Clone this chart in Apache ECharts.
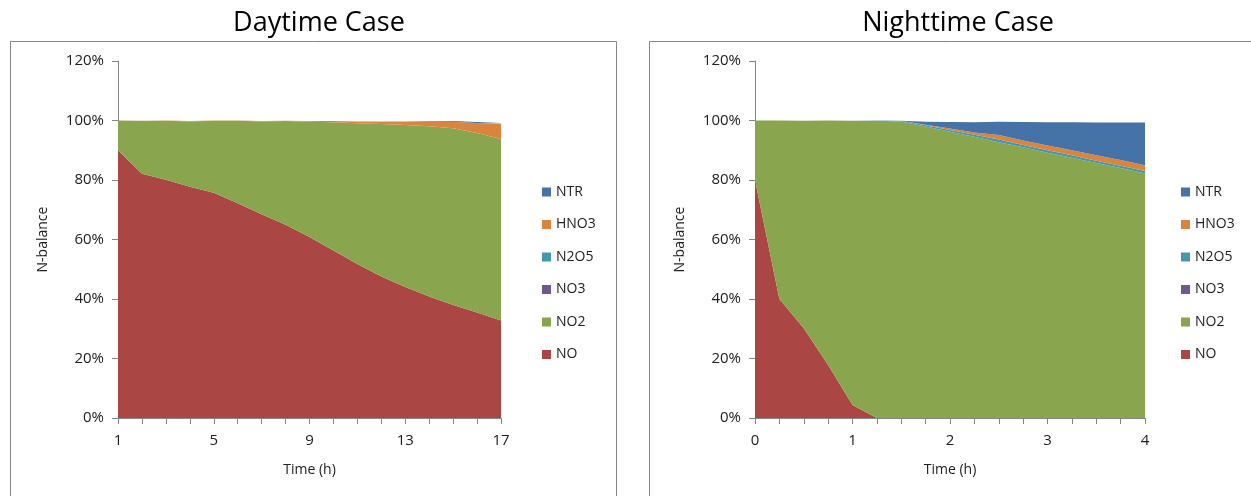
<!DOCTYPE html>
<html><head><meta charset="utf-8">
<script src="https://cdn.jsdelivr.net/npm/echarts@6/dist/echarts.min.js"></script>
<style>html,body{margin:0;padding:0;background:#fff}#c{width:1251px;height:496px}</style>
</head><body><div id="c"></div>
<script>
// ---- Data ----
const seriesNames = ['NO','NO2','NO3','N2O5','HNO3','NTR'];
const legendOrder = ['NTR','HNO3','N2O5','NO3','NO2','NO'];
const colors = {NO:'#AA4643',NO2:'#89A54E',NO3:'#71588F',N2O5:'#4198AF',HNO3:'#DB843D',NTR:'#4572A7'};

// Daytime (h 1..17)
const dayTime = ['1','2','3','4','5','6','7','8','9','10','11','12','13','14','15','16','17'];
const dayNO   = [0.900,0.821,0.801,0.777,0.757,0.722,0.685,0.650,0.608,0.563,0.518,0.476,0.440,0.408,0.380,0.355,0.328];
const dayNO2  = [0.100,0.177,0.198,0.220,0.242,0.277,0.312,0.348,0.388,0.431,0.473,0.512,0.545,0.573,0.594,0.603,0.610];
const dayNO3  = [0,0,0,0,0,0,0,0,0,0,0,0,0,0,0,0,0];
const dayN2O5 = [0,0,0,0,0,0,0,0,0,0,0,0,0,0,0,0,0];
const dayHNO3 = [0,0.001,0.001,0.001,0.001,0.001,0.001,0.001,0.002,0.004,0.006,0.009,0.012,0.016,0.022,0.034,0.052];
const dayNTR  = [0,0,0,0,0,0,0,0,0,0,0,0,0,0.001,0.002,0.003,0.004];

// Nighttime (h 0..4, step 0.25)
const nightTime = ['0','0.25','0.5','0.75','1','1.25','1.5','1.75','2','2.25','2.5','2.75','3','3.25','3.5','3.75','4'];
const nightNO   = [0.800,0.400,0.302,0.178,0.044,0,0,0,0,0,0,0,0,0,0,0,0];
const nightNO2  = [0.200,0.600,0.697,0.822,0.955,0.999,0.997,0.980,0.962,0.945,0.927,0.910,0.892,0.875,0.857,0.840,0.822];
const nightNO3  = [0,0,0,0,0,0,0,0,0,0,0,0,0,0,0,0,0];
const nightN2O5 = [0,0,0,0,0,0.001,0.002,0.004,0.006,0.007,0.009,0.008,0.008,0.008,0.008,0.008,0.008];
const nightHNO3 = [0,0,0,0,0,0,0,0.002,0.005,0.008,0.015,0.015,0.016,0.017,0.018,0.019,0.020];
const nightNTR  = [0,0,0,0,0,0,0,0.010,0.022,0.034,0.045,0.062,0.078,0.094,0.110,0.126,0.143];

const yTicks = ['0%','20%','40%','60%','80%','100%','120%'];

const dayData = {NO:dayNO,NO2:dayNO2,NO3:dayNO3,N2O5:dayN2O5,HNO3:dayHNO3,NTR:dayNTR};
const nightData = {NO:nightNO,NO2:nightNO2,NO3:nightNO3,N2O5:nightN2O5,HNO3:nightHNO3,NTR:nightNTR};

const font = 'Open Sans, Noto Sans, sans-serif';
const axisColor = '#868686';

function mkSeries(idx, data, stack){
  return seriesNames.map(n => ({
    name:n, type:'line', xAxisIndex:idx, yAxisIndex:idx, stack:stack,
    symbol:'none', smooth:false, lineStyle:{width:0}, color:colors[n],
    areaStyle:{color:colors[n], opacity:1},
    data: data[n]
  }));
}

function xAxis(idx, cats){
  return {type:'category', gridIndex:idx, data:cats, boundaryGap:false,
    name:'Time (h)', nameLocation:'middle', nameGap:45,
    nameTextStyle:{fontFamily:font, fontSize:14, color:'#222'},
    axisLine:{lineStyle:{color:axisColor}},
    axisTick:{show:true, length:6, interval:0, lineStyle:{color:axisColor}},
    splitLine:{show:false},
    axisLabel:{fontFamily:font, fontSize:15, color:'#222', margin:15, interval:3}};
}
function yAxis(idx){
  return {type:'value', gridIndex:idx, min:0, max:1.2, interval:0.2,
    name:'N-balance', nameLocation:'middle', nameGap:68, nameRotate:90,
    nameTextStyle:{fontFamily:font, fontSize:14, color:'#222'},
    axisLine:{show:true, lineStyle:{color:axisColor}},
    axisTick:{show:true, length:6, lineStyle:{color:axisColor}},
    splitLine:{show:false},
    axisLabel:{fontFamily:font, fontSize:15, color:'#222', margin:14,
      formatter:v=>yTicks[Math.round(v/0.2)]}};
}
function legend(left){
  return {orient:'vertical', left:left, top:180, data:legendOrder, icon:'rect',
    itemWidth:9, itemHeight:9, itemGap:18.5,
    textStyle:{fontFamily:font, fontSize:14, color:'#222'}, selectedMode:false};
}

const chart = echarts.init(document.getElementById('c'), null, {renderer:'canvas'});
chart.setOption({
  animation:false,
  title:[
    {text:'Daytime Case', left:314, top:5, textAlign:'center', textStyle:{fontFamily:font, fontSize:27, fontWeight:'normal', color:'#000'}},
    {text:'Nighttime Case', left:953, top:5, textAlign:'center', textStyle:{fontFamily:font, fontSize:27, fontWeight:'normal', color:'#000'}}
  ],
  graphic:[
    {type:'rect', shape:{x:10.5,y:41.5,width:606,height:470}, style:{fill:'none', stroke:axisColor, lineWidth:1}, silent:true},
    {type:'rect', shape:{x:649.5,y:41.5,width:620,height:470}, style:{fill:'none', stroke:axisColor, lineWidth:1}, silent:true}
  ],
  legend:[legend(537), legend(1176)],
  grid:[
    {left:118, right:750, top:61, bottom:78},
    {left:755, right:106, top:61, bottom:78}
  ],
  xAxis:[xAxis(0, dayTime), xAxis(1, nightTime)],
  yAxis:[yAxis(0), yAxis(1)],
  series:[...mkSeries(0, dayData, 'day'), ...mkSeries(1, nightData, 'night')]
});
</script></body></html>
